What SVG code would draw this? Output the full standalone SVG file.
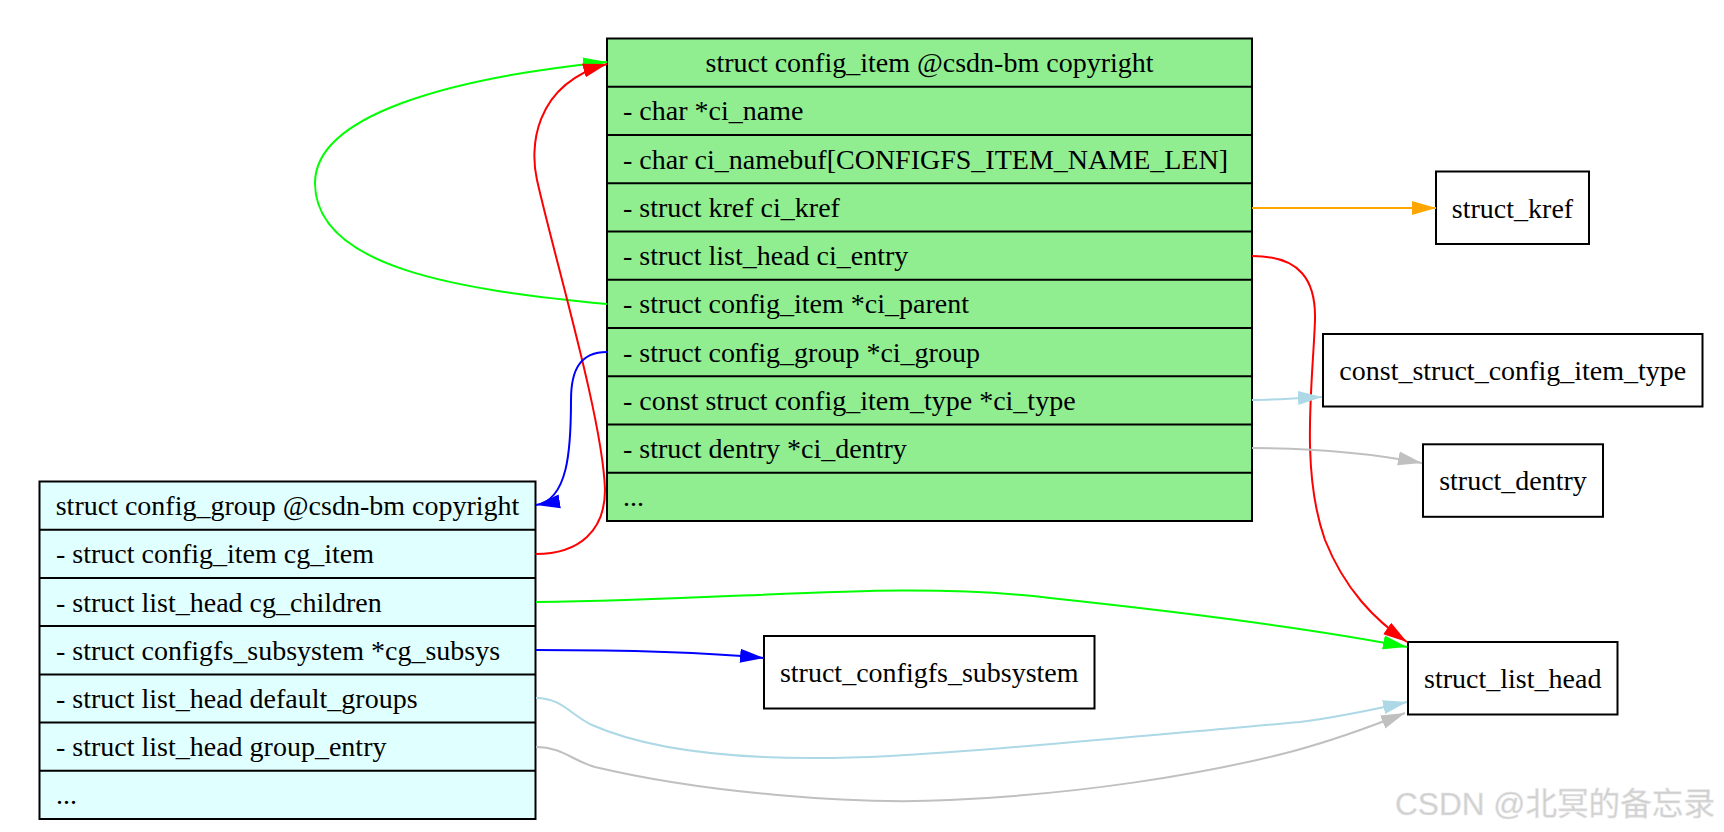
<svg xmlns="http://www.w3.org/2000/svg" width="1724" height="832" viewBox="0 0 1724 832">
<style>
.t{font-family:"Liberation Serif","Times New Roman",serif;font-size:28px;fill:#000}
.c{text-anchor:middle}
.box{stroke:#000;stroke-width:2}
.sep{stroke:#000;stroke-width:2}
.e{fill:none;stroke-width:2}
.wm{font-family:"Liberation Sans","Noto Sans CJK SC",sans-serif;font-size:32px;fill:#cfcfcf;stroke:#e6e6e6;stroke-width:0.6}
</style>
<defs>
<marker id="a-green" viewBox="0 0 24 16" refX="24" refY="8" markerWidth="24" markerHeight="16" markerUnits="userSpaceOnUse" orient="auto"><path d="M0,1 L24,8 L0,15 z" fill="#00ff00"/></marker>
<marker id="a-red" viewBox="0 0 24 16" refX="24" refY="8" markerWidth="24" markerHeight="16" markerUnits="userSpaceOnUse" orient="auto"><path d="M0,1 L24,8 L0,15 z" fill="#ff0000"/></marker>
<marker id="a-blue" viewBox="0 0 24 16" refX="24" refY="8" markerWidth="24" markerHeight="16" markerUnits="userSpaceOnUse" orient="auto"><path d="M0,1 L24,8 L0,15 z" fill="#0000ff"/></marker>
<marker id="a-orange" viewBox="0 0 24 16" refX="24" refY="8" markerWidth="24" markerHeight="16" markerUnits="userSpaceOnUse" orient="auto"><path d="M0,1 L24,8 L0,15 z" fill="#ffa500"/></marker>
<marker id="a-lblue" viewBox="0 0 24 16" refX="24" refY="8" markerWidth="24" markerHeight="16" markerUnits="userSpaceOnUse" orient="auto"><path d="M0,1 L24,8 L0,15 z" fill="#add8e6"/></marker>
<marker id="a-gray" viewBox="0 0 24 16" refX="24" refY="8" markerWidth="24" markerHeight="16" markerUnits="userSpaceOnUse" orient="auto"><path d="M0,1 L24,8 L0,15 z" fill="#c0c0c0"/></marker>
</defs>
<rect width="1724" height="832" fill="#fff"/>

<g id="config_item">
<rect class="box" x="607" y="38.5" width="645" height="482.5" fill="#90ee90"/>
<path class="sep" d="M607,86.75H1252M607,135H1252M607,183.25H1252M607,231.5H1252M607,279.75H1252M607,328H1252M607,376.25H1252M607,424.5H1252M607,472.75H1252"/>
<text class="t c" x="929.5" y="72">struct config_item @csdn-bm copyright</text>
<text class="t" x="623" y="120.4">- char *ci_name</text>
<text class="t" x="623" y="168.6">- char ci_namebuf[CONFIGFS_ITEM_NAME_LEN]</text>
<text class="t" x="623" y="216.9">- struct kref ci_kref</text>
<text class="t" x="623" y="265.1">- struct list_head ci_entry</text>
<text class="t" x="623" y="313.4">- struct config_item *ci_parent</text>
<text class="t" x="623" y="361.6">- struct config_group *ci_group</text>
<text class="t" x="623" y="409.9">- const struct config_item_type *ci_type</text>
<text class="t" x="623" y="458.1">- struct dentry *ci_dentry</text>
<text class="t" x="623" y="506.4">...</text>
</g>

<g id="config_group">
<rect class="box" x="39.5" y="481.5" width="496" height="337.5" fill="#e0ffff"/>
<path class="sep" d="M39.5,529.7H535.5M39.5,577.9H535.5M39.5,626.1H535.5M39.5,674.4H535.5M39.5,722.6H535.5M39.5,770.8H535.5"/>
<text class="t c" x="287.5" y="515">struct config_group @csdn-bm copyright</text>
<text class="t" x="56" y="563.3">- struct config_item cg_item</text>
<text class="t" x="56" y="611.5">- struct list_head cg_children</text>
<text class="t" x="56" y="659.7">- struct configfs_subsystem *cg_subsys</text>
<text class="t" x="56" y="708">- struct list_head default_groups</text>
<text class="t" x="56" y="756.2">- struct list_head group_entry</text>
<text class="t" x="56" y="804.4">...</text>
</g>

<g id="struct_kref">
<rect class="box" x="1436" y="171.5" width="153" height="72.5" fill="#fff"/>
<text class="t c" x="1512.5" y="217.5">struct_kref</text>
</g>
<g id="const_struct_config_item_type">
<rect class="box" x="1323" y="334" width="379.5" height="72.5" fill="#fff"/>
<text class="t c" x="1512.75" y="380">const_struct_config_item_type</text>
</g>
<g id="struct_dentry">
<rect class="box" x="1423" y="444.3" width="180" height="72.5" fill="#fff"/>
<text class="t c" x="1513" y="490">struct_dentry</text>
</g>
<g id="struct_configfs_subsystem">
<rect class="box" x="764" y="636" width="330.5" height="72.5" fill="#fff"/>
<text class="t c" x="929.25" y="682">struct_configfs_subsystem</text>
</g>
<g id="struct_list_head">
<rect class="box" x="1408" y="642" width="209.5" height="72.5" fill="#fff"/>
<text class="t c" x="1512.75" y="688">struct_list_head</text>
</g>

<g id="connectors">
<path class="e" stroke="#00ff00" marker-end="url(#a-green)" d="M607,304 C460,290 315,268 315,183 C315,115 450,78 607,62"/>
<path class="e" stroke="#ff0000" marker-end="url(#a-red)" d="M535.5,554 C580,554 605,530 605,490 C603,420 555,260 537,180 C530,150 532,85 607,64"/>
<path class="e" stroke="#0000ff" marker-end="url(#a-blue)" d="M607,352 C580,352 571,370 571,400 C571,450 568,500 536,505"/>
<path class="e" stroke="#ffa500" marker-end="url(#a-orange)" d="M1252,208 L1436,208"/>
<path class="e" stroke="#ff0000" marker-end="url(#a-red)" d="M1252,256 C1300,256 1316,280 1315,320 C1313,380 1300,470 1325,540 C1345,590 1375,620 1407,642"/>
<path class="e" stroke="#add8e6" marker-end="url(#a-lblue)" d="M1252,400 C1275,400 1295,398 1322,397"/>
<path class="e" stroke="#c0c0c0" marker-end="url(#a-gray)" d="M1252,448 C1310,448 1370,453 1422,463"/>
<path class="e" stroke="#00ff00" marker-end="url(#a-green)" d="M536,602 C750,600 900,580 1050,598 C1200,614 1330,632 1407,647"/>
<path class="e" stroke="#0000ff" marker-end="url(#a-blue)" d="M536,650 C620,650 700,652 764,658"/>
<path class="e" stroke="#add8e6" marker-end="url(#a-lblue)" d="M536,698 C562,698 572,716 592,725 C660,755 770,762 890,756 C1000,750 1150,735 1300,722 C1345,716 1380,708 1407,702"/>
<path class="e" stroke="#c0c0c0" marker-end="url(#a-gray)" d="M536,747 C562,747 573,761 595,767 C700,792 850,805 950,800 C1080,794 1200,775 1290,752 C1335,740 1370,727 1405,713"/>
</g>

<text class="wm" x="1395" y="815" textLength="320" lengthAdjust="spacingAndGlyphs">CSDN @北冥的备忘录</text>
</svg>
